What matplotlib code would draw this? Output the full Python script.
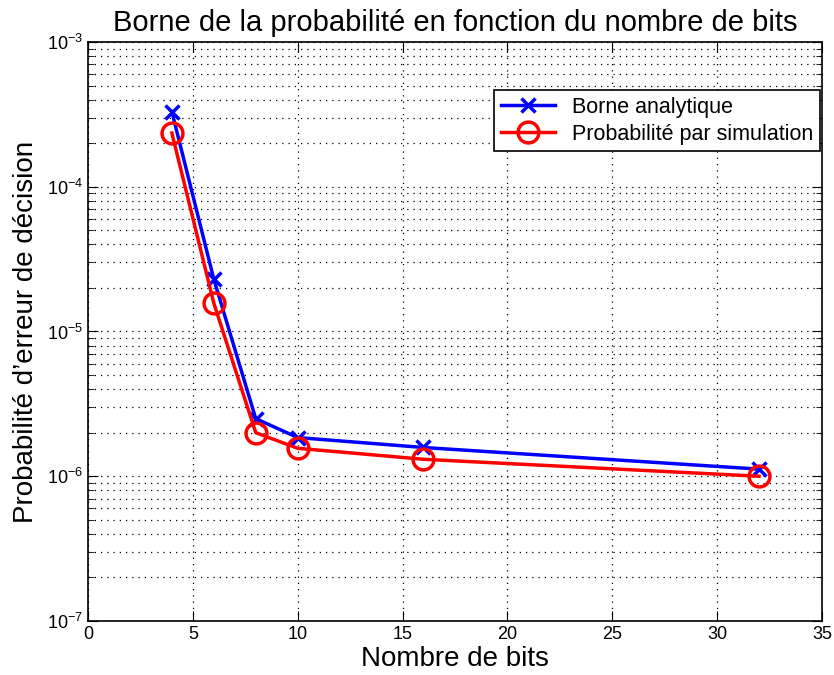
import matplotlib
matplotlib.use("Agg")
import matplotlib.pyplot as plt
from matplotlib.ticker import LogLocator, NullFormatter

plt.rcParams['font.family'] = ['Liberation Sans', 'DejaVu Sans']
plt.rcParams['mathtext.fontset'] = 'custom'
plt.rcParams['mathtext.rm'] = 'Liberation Sans'
plt.rcParams['mathtext.it'] = 'Liberation Sans:italic'

bits = [4, 6, 8, 10, 16, 32]
borne = [3.3e-4, 2.3e-5, 2.5e-6, 1.85e-6, 1.58e-6, 1.12e-6]
simul = [2.35e-4, 1.57e-5, 2.0e-6, 1.56e-6, 1.31e-6, 1.0e-6]
xticks = [0, 5, 10, 15, 20, 25, 30, 35]

fig = plt.figure(figsize=(8.34, 6.75), dpi=100)
ax = fig.add_axes([0.1055, 0.08, 0.88, 0.8578])

ax.semilogy(bits, borne, color='#0000ff', lw=2.5, marker='x', ms=10, mew=2.5,
            label='Borne analytique')
ax.semilogy(bits, simul, color='#ff0000', lw=2.5, marker='o', ms=15, mew=2.5,
            mfc='none', label='Probabilité par simulation')

ax.set_xlim(0, 35)
ax.set_ylim(1e-7, 1e-3)
ax.set_xticks(xticks)
ax.yaxis.set_major_locator(LogLocator(base=10, numticks=10))
ax.yaxis.set_minor_locator(LogLocator(base=10, subs=range(2, 10), numticks=100))
ax.yaxis.set_minor_formatter(NullFormatter())

ax.grid(True, which='major', color='black', linestyle=(0, (1, 4)), lw=0.9)
ax.grid(True, which='minor', axis='y', color='black', linestyle=(0, (1, 4)), lw=0.9)
ax.tick_params(which='both', direction='in', top=True, right=True, labelsize=13)
ax.tick_params(which='major', length=7)
ax.tick_params(which='minor', length=4)
for s in ax.spines.values():
    s.set_linewidth(1.2)

ax.set_title('Borne de la probabilité en fonction du nombre de bits', fontsize=21, pad=8)
ax.set_xlabel('Nombre de bits', fontsize=20, labelpad=2)
ax.set_ylabel("Probabilité d’erreur de décision", fontsize=20, labelpad=6)

leg = ax.legend(loc='upper right', bbox_to_anchor=(0.997, 0.917), fontsize=15.5,
                fancybox=False, edgecolor='black', framealpha=1, borderpad=0.3,
                handlelength=2.5, labelspacing=0.3, borderaxespad=0)
leg.get_frame().set_linewidth(1.2)

fig.savefig('out.png', dpi=100)
